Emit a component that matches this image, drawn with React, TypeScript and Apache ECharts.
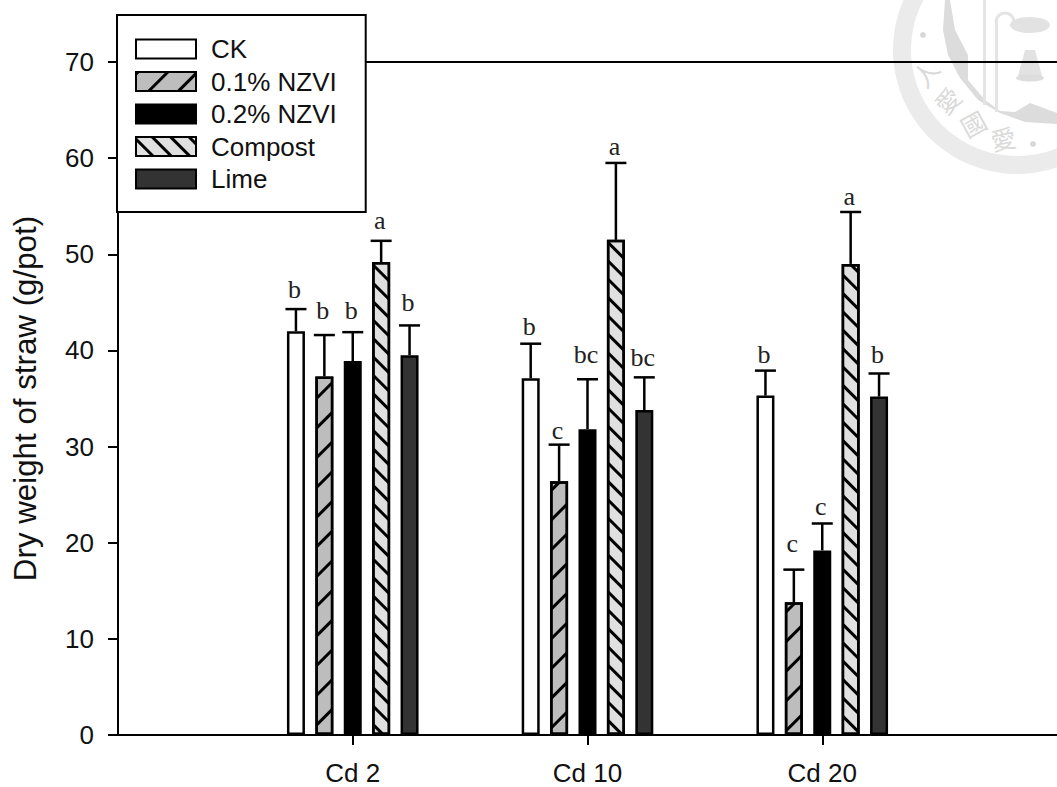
import React, { useEffect, useRef } from "react";
import * as echarts from "echarts";

const categories = ["", "Cd 2", "Cd 10", "Cd 20", ""];
const treatments = ["CK", "0.1% NZVI", "0.2% NZVI", "Compost", "Lime"];
const ck = [42, 37.1, 35.3];
const nzvi1 = [37.3, 26.4, 13.8];
const nzvi2 = [38.9, 31.8, 19.2];
const compost = [49.2, 51.5, 49];
const lime = [39.5, 33.8, 35.2];
const ckTop = [44.3, 40.7, 37.9];
const nzvi1Top = [41.6, 30.2, 17.2];
const nzvi2Top = [41.9, 37, 22];
const compostTop = [51.4, 59.5, 54.4];
const limeTop = [42.6, 37.2, 37.6];
const ckLetters = ["b", "b", "b"];
const nzvi1Letters = ["b", "c", "c"];
const nzvi2Letters = ["b", "bc", "c"];
const compostLetters = ["a", "a", "a"];
const limeLetters = ["b", "bc", "b"];
const ckLetterY = [46.3, 42.5, 39.6];
const nzvi1LetterY = [44.2, 31.7, 19.9];
const nzvi2LetterY = [44.2, 39.6, 23.8];
const compostLetterY = [53.5, 61.2, 56];
const limeLetterY = [45, 39.3, 39.6];

const means = [ck, nzvi1, nzvi2, compost, lime];
const tops = [ckTop, nzvi1Top, nzvi2Top, compostTop, limeTop];
const letters = [ckLetters, nzvi1Letters, nzvi2Letters, compostLetters, limeLetters];
const letterY = [ckLetterY, nzvi1LetterY, nzvi2LetterY, compostLetterY, limeLetterY];

const fills = ["#ffffff", "#bdbdbd", "#000000", "#e0e0e0", "#333333"];
const hatch: any[] = [
  null,
  { color: "#000", symbol: "rect", symbolSize: 1, dashArrayX: [1, 0], dashArrayY: [2.5, 17.5], rotation: -Math.PI / 4 },
  null,
  { color: "#000", symbol: "rect", symbolSize: 1, dashArrayX: [1, 0], dashArrayY: [2.5, 9.5], rotation: Math.PI / 4 },
  null,
];
const SPACING = 28.4;
const FONT = "'Liberation Sans', Arial, sans-serif";

export default function App() {
  const ref = useRef<HTMLDivElement>(null);
  useEffect(() => {
    const chart = echarts.init(ref.current!, undefined, { renderer: "svg" });
    const barSeries = treatments.map((name, i) => ({
      type: "bar",
      name,
      data: [null, ...means[i], null],
      barWidth: 18,
      barGap: "57.8%",
      z: 3,
      itemStyle: { color: fills[i], borderColor: "#000", borderWidth: 2.5, decal: hatch[i] || undefined },
    }));
    const errSeries = treatments.map((name, i) => ({
      type: "custom",
      name: name + " error",
      z: 2,
      silent: true,
      data: means[i].map((m, j) => [j + 1, m, tops[i][j], letterY[i][j], letters[i][j]]),
      encode: { x: 0, y: 2 },
      renderItem: (_p: any, api: any) => {
        const x = api.coord([api.value(0), 0])[0] + (i - 2) * SPACING;
        const y0 = api.coord([0, api.value(1)])[1];
        const y1 = api.coord([0, api.value(2)])[1];
        const yl = api.coord([0, api.value(3)])[1];
        const line = { stroke: "#000", lineWidth: 2.5 };
        return {
          type: "group",
          children: [
            { type: "line", shape: { x1: x, y1: y0, x2: x, y2: y1 }, style: line },
            { type: "line", shape: { x1: x - 10.5, y1, x2: x + 10.5, y2: y1 }, style: line },
            {
              type: "text",
              x: x - 1.5,
              y: yl,
              style: {
                text: String(letters[i][api.value(0) - 1]),
                fill: "#222",
                font: "26px 'Liberation Serif', Cambria, serif",
                align: "center",
                verticalAlign: "middle",
              },
            },
          ],
        };
      },
    }));
    const seal = (o: any) => ({ z: -1, silent: true, ...o });
    const sealChar = (text: string, x: number, y: number, rotation: number) =>
      seal({
        type: "text", x, y, rotation,
        style: { text, fill: "#dadada", font: "25px 'Noto Sans CJK TC'", align: "center", verticalAlign: "middle" },
      });
    chart.setOption({
      animation: false,
      backgroundColor: "#fff",
      textStyle: { fontFamily: FONT },
      grid: { left: 118, right: 0, top: 62, bottom: 52, outerBoundsMode: "none" },
      legend: {
        left: 117,
        top: 15,
        orient: "vertical",
        data: treatments,
        icon: "rect",
        backgroundColor: "#fff",
        borderColor: "#000",
        borderWidth: 2,
        borderRadius: 0,
        padding: [21, 29, 20, 18],
        itemWidth: 60,
        itemHeight: 19,
        itemGap: 6.5,
        textStyle: { fontSize: 26, lineHeight: 19, color: "#111", fontFamily: FONT, padding: [0, 0, 0, 10] },
        selectedMode: false,
        z: 10,
      },
      xAxis: [
        {
          type: "category",
          data: categories,
          boundaryGap: false,
          axisLine: { lineStyle: { color: "#000", width: 2 } },
          axisTick: { length: 10, lineStyle: { color: "#000", width: 2 }, interval: (_: number, v: string) => v !== "" },
          axisLabel: { fontSize: 26, color: "#111", margin: 25, interval: 0, fontFamily: FONT },
          splitLine: { show: false },
        },
        {
          type: "category",
          position: "top",
          data: categories,
          boundaryGap: false,
          axisLine: { lineStyle: { color: "#000", width: 2 } },
          axisTick: { show: false },
          axisLabel: { show: false },
        },
      ],
      yAxis: {
        type: "value",
        min: 0,
        max: 70,
        interval: 10,
        name: "Dry weight of straw (g/pot)",
        nameLocation: "middle",
        nameGap: 77,
        nameTextStyle: { fontSize: 31.3, color: "#111", fontFamily: FONT },
        axisLine: { show: true, lineStyle: { color: "#000", width: 2 } },
        axisTick: { show: true, length: 10, lineStyle: { color: "#000", width: 2 } },
        axisLabel: { fontSize: 26, color: "#111", margin: 24, fontFamily: FONT },
        splitLine: { show: false },
      },
      graphic: [
        seal({ type: "ring", shape: { cx: 1017, cy: 50, r: 124, r0: 106 }, style: { fill: "#ebebeb" } }),
        seal({
          type: "polygon",
          shape: { points: [[945, 0], [943, 30], [948, 55], [960, 78], [978, 100], [1000, 113], [1025, 122], [1057, 124], [1057, 113], [1030, 103], [1015, 112], [1000, 111], [985, 100], [968, 80], [968, 55], [955, 30], [950, 0]] },
          style: { fill: "#dcdcdc" },
        }),
        seal({ type: "circle", shape: { cx: 923, cy: 35, r: 3 }, style: { fill: "#d8d8d8" } }),
        seal({ type: "circle", shape: { cx: 1033, cy: 144, r: 3 }, style: { fill: "#d8d8d8" } }),
        seal({ type: "rect", shape: { x: 983, y: 0, width: 3, height: 105 }, style: { fill: "#e4e4e4" } }),
        seal({ type: "rect", shape: { x: 995, y: 20, width: 3, height: 92 }, style: { fill: "#e4e4e4" } }),
        seal({ type: "arc", shape: { cx: 1005, cy: 22, r: 9, startAngle: Math.PI, endAngle: 2 * Math.PI }, style: { stroke: "#e4e4e4", lineWidth: 3, fill: "none" } }),
        seal({ type: "ellipse", shape: { cx: 1030, cy: 25, rx: 20, ry: 8 }, style: { fill: "#e2e2e2" } }),
        seal({ type: "polygon", shape: { points: [[1025, 50], [1035, 50], [1042, 76], [1018, 76]] }, style: { fill: "#e2e2e2" } }),
        seal({ type: "ellipse", shape: { cx: 1030, cy: 78, rx: 14, ry: 3.5 }, style: { fill: "#dddddd" } }),
        sealChar("人", 925, 73, 0.9),
        sealChar("愛", 947, 100, 0.8),
        sealChar("國", 973, 123, 0.5),
        sealChar("愛", 1003, 138, 0.2),
      ],
      series: [...barSeries, ...errSeries],
    } as any);
    return () => chart.dispose();
  }, []);
  return <div ref={ref} style={{ position: "absolute", left: 0, top: 0, width: 1057, height: 787 }} />;
}
